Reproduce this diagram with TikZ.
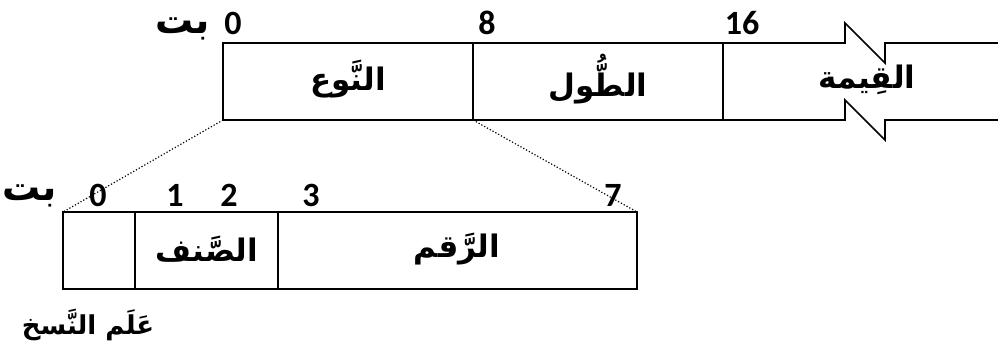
\documentclass[tikz,border=0pt]{standalone}
\usepackage{fontspec}
\setmainfont{Carlito}
\newfontfamily\arabicfont[Script=Arabic]{DejaVu Sans}
\TeXXeTstate=1
\usetikzlibrary{positioning}

\newcommand{\ar}[1]{{\arabicfont\bfseries\beginR #1\endR}}

\begin{document}
\begin{tikzpicture}[x=1pt, y=-1pt, line width=1.6pt]
      \tikzset{
	  field/.style={rectangle, draw=black, line width=1.6pt, minimum height=77pt, inner sep=0pt, outer sep=0pt, anchor=north west},
	  fieldname/.style={inner sep=0pt, font=\fontsize{31}{36}\selectfont},
	  bitnum/.style={inner sep=0pt, font=\bfseries\fontsize{34}{40}\selectfont},
	  bitword/.style={inner sep=0pt, anchor=east, font=\fontsize{38}{44}\selectfont},
	  zoomline/.style={dotted, line width=1.2pt}
      }
      \useasboundingbox (0,0) rectangle (998,354);

      % header fields
      \node at (223,43) [field, minimum width=250pt] (type) {};
      \node [field, minimum width=250pt, right=0pt of type] (len) {};
      \def\tornedge{-- +(122,0) -- +(122,-20) -- +(162,20) -- +(162,0) -- +(275,0)}
      \draw (len.north east) \tornedge;
      \draw (len.south east) \tornedge;
      \node at (348,79) [fieldname] (typename) {\ar{النَّوع}};
      \node at (598,79) [fieldname] (lenname) {\ar{الطُّول}};
      \node at (867,80) [fieldname] (valuename) {\ar{القِيمة}};

      \node at (211,29) [bitword] (bitsA) {\ar{بت}};
      \node at (233,23) [bitnum] (bA0) {0};
      \node at (487,23) [bitnum] (bA8) {8};
      \node at (742,23) [bitnum] (bA16) {16};

      % type byte
      \node at (63,212) [field, minimum width=72pt] (flag) {};
      \node [field, minimum width=143pt, right=0pt of flag] (class) {};
      \node [field, minimum width=359pt, right=0pt of class] (num) {};
      \node at (207,249) [fieldname] (classname) {\ar{الصَّنف}};
      \node at (457,249) [fieldname] (numname) {\ar{الرَّقم}};
      \draw [zoomline] (type.south west) -- (flag.north west);
      \draw [zoomline] (type.south east) -- (num.north east);

      \node at (58,196) [bitword] (bitsB) {\ar{بت}};
      \node at (98,195) [bitnum] (bB0) {0};
      \node at (175,195) [bitnum] (bB1) {1};
      \node at (229,195) [bitnum] (bB2) {2};
      \node at (311,195) [bitnum] (bB3) {3};
      \node at (613,195) [bitnum] (bB7) {7};

      \node at (88,325) [fieldname, font=\fontsize{26}{30}\selectfont] (flagname) {\ar{عَلَم النَّسخ}};
\end{tikzpicture}
\end{document}
